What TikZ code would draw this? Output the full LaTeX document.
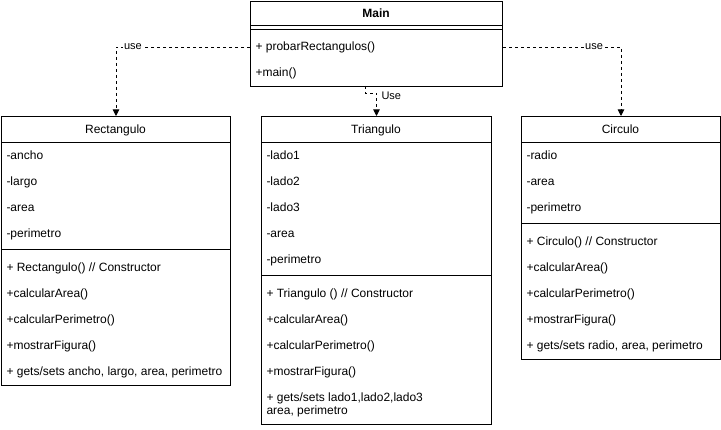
\documentclass[tikz,border=0pt]{standalone}
\usepackage{fontspec}
\setmainfont{Liberation Sans}
\usetikzlibrary{arrows.meta}
\begin{document}
\begin{tikzpicture}[x=1pt,y=-1pt,line width=1pt,
  cls/.style={draw,rectangle,anchor=north west,inner sep=0pt},
  row/.style={anchor=west,inner xsep=5pt,inner ysep=0pt,text height=9pt,text depth=2.5pt,align=left,font=\fontsize{12}{13}\selectfont},
  multirow/.style={anchor=north west,inner xsep=5pt,inner ysep=0pt,align=left,font=\fontsize{12}{13}\selectfont},
  ttl/.style={anchor=center,inner sep=0pt,text height=9pt,text depth=2.5pt,font=\fontsize{12}{14}\selectfont},
  dep/.style={dash pattern=on 3pt off 3pt,line width=0.9pt,-{Triangle[length=6.5pt,width=6.5pt]}},
  lbl/.style={fill=white,inner xsep=1pt,inner ysep=1pt,font=\fontsize{11}{13}\selectfont}
]
\useasboundingbox (0,0) rectangle (721,430);

% ---------- Main ----------
\node[cls,minimum width=252pt,minimum height=85pt] (main) at (250,1) {};
\node[ttl,font=\fontsize{12}{14}\selectfont\bfseries] (mainT) at (376,14) {Main};
\draw (250,26) -- (502,26);
\draw (250,30) -- (502,30);
\node[row] (m1) at (250,47) {+ probarRectangulos()};
\node[row] (m2) at (250,73) {+main()};

% ---------- Rectangulo ----------
\node[cls,minimum width=229pt,minimum height=269pt] (rect) at (1,116) {};
\node[ttl] (rectT) at (115.5,130) {Rectangulo};
\draw (1,143) -- (230,143);
\node[row] (r1) at (1,156) {-ancho};
\node[row] (r2) at (1,182) {-largo};
\node[row] (r3) at (1,208) {-area};
\node[row] (r4) at (1,234) {-perimetro};
\draw (1,250) -- (230,250);
\node[row] (r5) at (1,268) {+ Rectangulo() // Constructor};
\node[row] (r6) at (1,294) {+calcularArea()};
\node[row] (r7) at (1,320) {+calcularPerimetro()};
\node[row] (r8) at (1,346) {+mostrarFigura()};
\node[row] (r9) at (1,372) {+ gets/sets ancho, largo, area, perimetro};

% ---------- Triangulo ----------
\node[cls,minimum width=230pt,minimum height=308pt] (tri) at (261,116) {};
\node[ttl] (triT) at (376,130) {Triangulo};
\draw (261,143) -- (491,143);
\node[row] (t1) at (261,156) {-lado1};
\node[row] (t2) at (261,182) {-lado2};
\node[row] (t3) at (261,208) {-lado3};
\node[row] (t4) at (261,234) {-area};
\node[row] (t5) at (261,260) {-perimetro};
\draw (261,276) -- (491,276);
\node[row] (t6) at (261,294) {+ Triangulo () // Constructor};
\node[row] (t7) at (261,320) {+calcularArea()};
\node[row] (t8) at (261,346) {+calcularPerimetro()};
\node[row] (t9) at (261,372) {+mostrarFigura()};
\node[multirow] (t10) at (261,392) {+ gets/sets lado1,lado2,lado3\\area, perimetro};

% ---------- Circulo ----------
\node[cls,minimum width=199pt,minimum height=243pt] (circ) at (521,116) {};
\node[ttl] (circT) at (620.5,130) {Circulo};
\draw (521,143) -- (720,143);
\node[row] (c1) at (521,156) {-radio};
\node[row] (c2) at (521,182) {-area};
\node[row] (c3) at (521,208) {-perimetro};
\draw (521,224) -- (720,224);
\node[row] (c4) at (521,242) {+ Circulo() // Constructor};
\node[row] (c5) at (521,268) {+calcularArea()};
\node[row] (c6) at (521,294) {+calcularPerimetro()};
\node[row] (c7) at (521,320) {+mostrarFigura()};
\node[row] (c8) at (521,346) {+ gets/sets radio, area, perimetro};

% ---------- connectors ----------
\draw[dep] (m1.west) -| (rect.north);
\node[lbl] (uL) at (133,47) {use};
\draw[dep] (m1 -| main.east) -| (circ.north);
\node[lbl] (uR) at (594,47) {use};
\coordinate (ms) at (365,86);
\draw[dep] (ms) -- ++(0,7) -| (tri.north);
\node[lbl,anchor=west] (uM) at (380,96) {Use};
\end{tikzpicture}
\end{document}
